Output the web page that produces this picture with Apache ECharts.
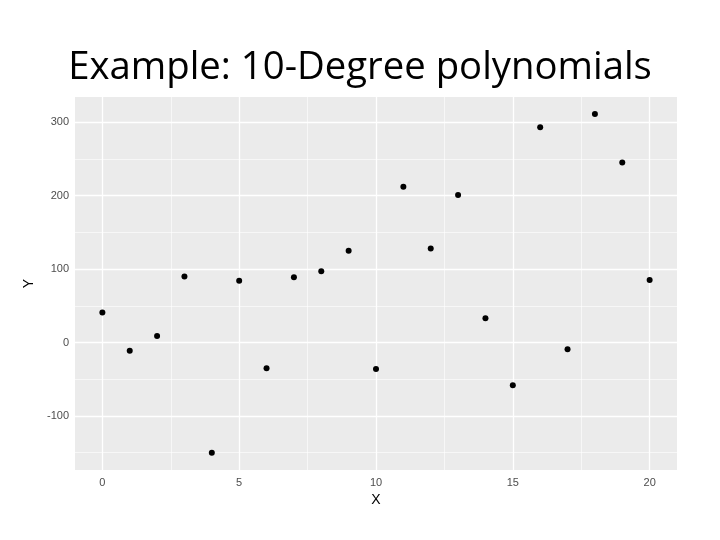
<!DOCTYPE html>
<html><head><meta charset="utf-8">
<script src="https://cdn.jsdelivr.net/npm/echarts@6/dist/echarts.min.js"></script>
<style>html,body{margin:0;padding:0;background:#fff}#c{width:720px;height:540px}</style>
</head><body><div id="c"></div>
<script>
var xValues = [0,1,2,3,4,5,6,7,8,9,10,11,12,13,14,15,16,17,18,19,20];
var yValues = [41,-11,9,90,-150,84,-35,89,97,125,-36,212,128,201,33,-58,293,-9,311,245,85];
var xTicks = [0,5,10,15,20];
var xMinor = [2.5,7.5,12.5,17.5];
var yTicks = [-100,0,100,200,300];
var yMinor = [-150,-50,50,150,250];
var titleText = 'Example: 10-Degree polynomials';

var chart = echarts.init(document.getElementById('c'));
var gridLines = [];
xMinor.forEach(function(v){gridLines.push({xAxis:v, lineStyle:{width:0.6}});});
yMinor.forEach(function(v){gridLines.push({yAxis:v, lineStyle:{width:0.6}});});
xTicks.forEach(function(v){gridLines.push({xAxis:v, lineStyle:{width:1.3}});});
yTicks.forEach(function(v){gridLines.push({yAxis:v, lineStyle:{width:1.3}});});

chart.setOption({
  animation:false,
  title:{text:titleText,left:'center',top:44,textStyle:{fontFamily:'Open Sans',fontSize:38.3,fontWeight:'normal',color:'#000'}},
  grid:{left:75,right:43,top:97,bottom:70,show:true,backgroundColor:'#EBEBEB',borderWidth:0},
  xAxis:{type:'value',min:-1,max:21,
    name:'X',nameLocation:'middle',nameGap:21,nameTextStyle:{fontFamily:'Liberation Sans',fontSize:14,color:'#000'},
    axisLine:{show:false},
    axisTick:{show:true,customValues:xTicks,length:3,lineStyle:{color:'#333',width:1}},
    axisLabel:{customValues:xTicks,margin:7,fontFamily:'Liberation Sans',fontSize:11,color:'#4D4D4D'},
    splitLine:{show:false}},
  yAxis:{type:'value',min:-173.5,max:334.3,
    name:'Y',nameLocation:'middle',nameGap:36,nameRotate:90,nameTextStyle:{fontFamily:'Liberation Sans',fontSize:14,color:'#000'},
    axisLine:{show:false},
    axisTick:{show:true,customValues:yTicks,length:3,lineStyle:{color:'#333',width:1}},
    axisLabel:{customValues:yTicks,margin:6,fontFamily:'Liberation Sans',fontSize:11,color:'#4D4D4D'},
    splitLine:{show:false}},
  series:[
    {type:'line',data:[],z:1,silent:true,
     markLine:{silent:true,z:1,symbol:'none',label:{show:false},animation:false,
       lineStyle:{color:'#FFFFFF',type:'solid'},data:gridLines}},
    {type:'scatter',z:10,symbolSize:6,itemStyle:{color:'#000',opacity:1},
     data:xValues.map(function(x,i){return [x,yValues[i]];})}
  ]
});
</script></body></html>
